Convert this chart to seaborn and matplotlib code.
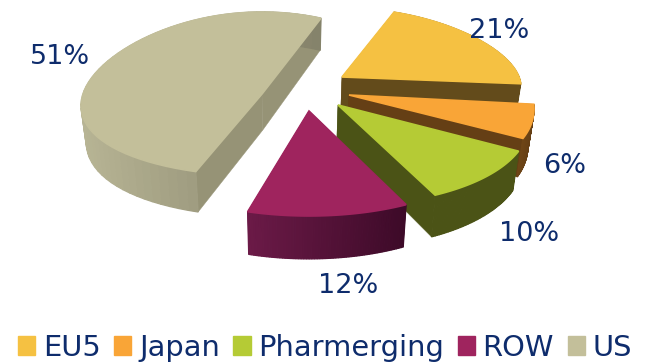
import numpy as np
import matplotlib
matplotlib.use("Agg")
import matplotlib.pyplot as plt
from matplotlib.patches import Patch, Polygon
from matplotlib.colors import to_rgb
import seaborn as sns

# Market shares in percent, clockwise from the first slice
segments = ["EU5", "Japan", "Pharmerging", "ROW", "US"]
shares = [21, 6, 10, 12, 51]

top_colours = ["#F5C142", "#F9A537", "#B5CB35", "#9F245E", "#C3BF9A"]
edge_wall_colours = ["#634B1B", "#653F15", "#4B5316", "#3F0B2A", "#969376"]
rim_near_colours = ["#634B1B", "#6E4516", "#4B5316", "#6B1A47", "#B7B494"]
rim_far_colours = ["#634B1B", "#643E14", "#4B5316", "#3D0A28", "#84826A"]

# Slice layout: explosion offsets from the pie centre, foreshortened radii
# and a small per-slice twist of the viewing angle
centre_x, centre_y = 312, 95
explode_x = [30, 37, 26, -3, -50]
explode_y = [-18, 0, 10, 16, -1]
radius_x = [177, 183, 190, 190, 179]
radius_y = [69, 95, 101, 105, 82]
twist = [0, 0, 0, 0, 2.5]
first_angle = 20
widen_front = 0.15

label_x = [499, 565, 529, 348, 60]
label_y = [31, 166, 234, 286, 57]

ink = "#0E2C6C"

sns.set_theme(style="white")
plt.rcParams["font.family"] = ["DejaVu Sans"]
palette = sns.color_palette(top_colours)


def wall_height(y):
    return 31 + 0.055 * y


def drop(x, y):
    # Lower edge of a wall below a top-face point, converging slightly to the middle
    return x + (290 - x) * 0.025, y + wall_height(y)


def rim_point(apex, rx, ry, angle):
    t = np.radians(angle)
    dx = rx * np.sin(t) * (1 - widen_front * np.cos(t))
    dy = -ry * np.cos(t)
    return apex[0] + dx, apex[1] + dy


def draw_slice(ax, i, start, stop):
    apex = (centre_x + explode_x[i], centre_y + explode_y[i])
    angles = np.linspace(start, stop, 61) + twist[i]
    rim = [rim_point(apex, radius_x[i], radius_y[i], a) for a in angles]

    # Flat walls along the two straight edges
    for corner in (rim[0], rim[-1]):
        wall = [apex, corner, drop(*corner), drop(*apex)]
        ax.add_patch(Polygon(wall, facecolor=edge_wall_colours[i],
                             edgecolor=edge_wall_colours[i], lw=0.3))

    # Curved outer wall, shaded strip by strip along the arc
    screen_x = np.array([p[0] for p in rim])
    span = max(screen_x.max() - screen_x.min(), 1)
    near = np.array(to_rgb(rim_near_colours[i]))
    far = np.array(to_rgb(rim_far_colours[i]))
    for a, b in zip(rim[:-1], rim[1:]):
        mix = (0.5 * (a[0] + b[0]) - screen_x.min()) / span
        colour = near * (1 - mix) + far * mix
        ax.add_patch(Polygon([a, b, drop(*b), drop(*a)], facecolor=colour,
                             edgecolor=colour, lw=0.9))

    # The top face is stroked wide enough to hide the wall strips behind it
    ax.add_patch(Polygon([apex] + rim, facecolor=palette[i], edgecolor=palette[i], lw=1.2))


fig = plt.figure(figsize=(6.46, 3.64), dpi=100, facecolor="white")
ax = fig.add_axes([0, 0, 1, 1])
ax.set_xlim(0, 646)
ax.set_ylim(364, 0)
ax.axis("off")

# Slice angles come from the shares
ends = first_angle + np.cumsum(shares) * 3.6
starts = np.concatenate([[first_angle], ends[:-1]])

# Painter's order: the back slice first, then clockwise towards the viewer
for i in [4, 0, 1, 2, 3]:
    draw_slice(ax, i, starts[i], ends[i])

for share, x, y in zip(shares, label_x, label_y):
    ax.text(x, y, f"{share}%", color=ink, fontsize=19.5, ha="center", va="center")

handles = [Patch(facecolor=c, edgecolor=c, label=s) for c, s in zip(palette, segments)]
ax.legend(handles=handles, ncol=5, loc="lower center", bbox_to_anchor=(0.503, -0.041),
          frameon=False, fontsize=20.8, labelcolor=ink, handlelength=0.6,
          handleheight=0.6, handletextpad=0.26, columnspacing=0.47, borderpad=0.1)

fig.savefig("out.png", dpi=100)
